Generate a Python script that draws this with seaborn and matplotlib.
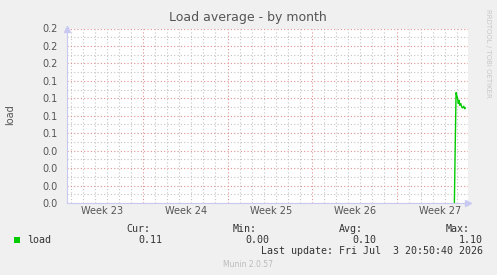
import matplotlib
matplotlib.use("Agg")
import matplotlib.pyplot as plt
import seaborn as sns
import numpy as np
import pandas as pd

# ---- data ----
day_offsets = [32.09, 32.23, 32.29, 32.34, 32.42, 32.48, 32.54, 32.62, 32.70, 32.78, 32.87, 32.95, 33.00]
load_values = [0.000, 0.1265, 0.1234, 0.1208, 0.1140, 0.1177, 0.1120, 0.1140, 0.1100, 0.1090, 0.1110, 0.1080, 0.1090]

y_tick_values = [0.0, 0.02, 0.04, 0.06, 0.08, 0.10, 0.12, 0.14, 0.16, 0.18, 0.20]
y_tick_labels = ["0.0", "0.0", "0.0", "0.0", "0.1", "0.1", "0.1", "0.1", "0.2", "0.2", "0.2"]
week_boundaries = [6.3, 13.3, 20.3, 27.3]
week_label_pos = [2.9, 9.9, 16.9, 23.9, 30.9]
week_labels = ["Week 23", "Week 24", "Week 25", "Week 26", "Week 27"]

legend_name = "load"
stat_headers = ["Cur:", "Min:", "Avg:", "Max:"]
stat_values = ["0.11", "0.00", "0.10", "1.10"]
last_update = "Last update: Fri Jul  3 20:50:40 2026"
title = "Load average - by month"
y_label = "load"

# ---- figure ----
sns.set_theme(style="white")
plt.rcParams["font.family"] = ["DejaVu Sans"]

W, H = 497, 275
fig = plt.figure(figsize=(W / 100, H / 100), dpi=100, facecolor="#F0F0F0")

def fx(x):
    return x / W

def fy(y):
    return 1 - y / H

left, right, top, bottom = 67, 468, 28.5, 203
ax = fig.add_axes([fx(left), fy(bottom), fx(right) - fx(left), fy(top) - fy(bottom)])
ax.set_facecolor("white")

df = pd.DataFrame({"day": day_offsets, "load": load_values})
sns.lineplot(data=df, x="day", y="load", ax=ax, color="#00CC00", linewidth=1.0)

ax.set_xlim(0, 33.22)
ax.set_ylim(0, 0.2)

# grid
minor_days = [d + 0.3 for d in range(0, 34) if d + 0.3 < 33.22]
ax.set_xticks(minor_days, minor=True)
ax.set_xticks(week_boundaries)
ax.set_xticklabels([])
ax.set_yticks(y_tick_values)
ax.set_yticklabels(y_tick_labels)
ax.set_yticks([v + 0.01 for v in y_tick_values[:-1]], minor=True)

ax.grid(which="minor", color="#C4C4C4", linestyle=(0, (1, 2)), linewidth=0.8)
ax.grid(which="major", color="#E09090", linestyle=(0, (1, 2)), linewidth=0.8)
ax.set_axisbelow(True)

ax.tick_params(axis="y", which="major", length=2, color="#E09090", labelsize=7, labelcolor="#555555", pad=5)
ax.tick_params(axis="y", which="minor", length=0)
ax.tick_params(axis="x", which="major", length=2, color="#E09090", direction="out")
ax.tick_params(axis="x", which="minor", length=0)

for p, lab in zip(week_label_pos, week_labels):
    ax.text(p, -0.004, lab, ha="center", va="top", fontsize=7, color="#555555",
            transform=ax.transData, clip_on=False)

for s in ["top", "right"]:
    ax.spines[s].set_visible(False)
for s in ["left", "bottom"]:
    ax.spines[s].set_color("#C8C8F0")
    ax.spines[s].set_linewidth(0.8)

# axis arrows
ax.plot([0], [1.0], marker="^", color="#C8C8F0", markersize=4, transform=ax.transAxes, clip_on=False)
ax.plot([1.0], [0], marker=">", color="#C8C8F0", markersize=4, transform=ax.transAxes, clip_on=False)

ax.set_xlabel("")
ax.set_ylabel("")

# title and y label
fig.text(fx(248), fy(18), title, ha="center", va="center", fontsize=9, color="#555555")
fig.text(fx(10), fy(115), y_label, ha="center", va="center", rotation=90, fontsize=7, color="#555555")

# side watermark
fig.text(fx(488), fy(53), "RRDTOOL / TOBI OETIKER", ha="center", va="center", rotation=270,
         fontsize=5, color="#C8C8C8")

# legend block
mono = "DejaVu Sans Mono"
fs = 7.2
fig.patches.append(plt.Rectangle((fx(14), fy(243)), fx(6), fy(237) - fy(243), transform=fig.transFigure,
                                 facecolor="#00CC00", edgecolor="none"))
fig.text(fx(27), fy(240), legend_name, ha="left", va="center", family=mono, fontsize=fs, color="#333333")
header_x = [150.5, 257, 362.5, 470]
value_x = [162.7, 269.5, 376, 482.7]
for hx, h in zip(header_x, stat_headers):
    fig.text(fx(hx), fy(228.5), h, ha="right", va="center", family=mono, fontsize=fs, color="#333333")
for vx, v in zip(value_x, stat_values):
    fig.text(fx(vx), fy(240), v, ha="right", va="center", family=mono, fontsize=fs, color="#333333")
fig.text(fx(482.7), fy(251.5), last_update, ha="right", va="center", family=mono, fontsize=fs, color="#333333")
fig.text(fx(248), fy(264.5), "Munin 2.0.57", ha="center", va="center", fontsize=5.5, color="#BBBBBB")

fig.savefig("out.png", dpi=100, facecolor=fig.get_facecolor())
